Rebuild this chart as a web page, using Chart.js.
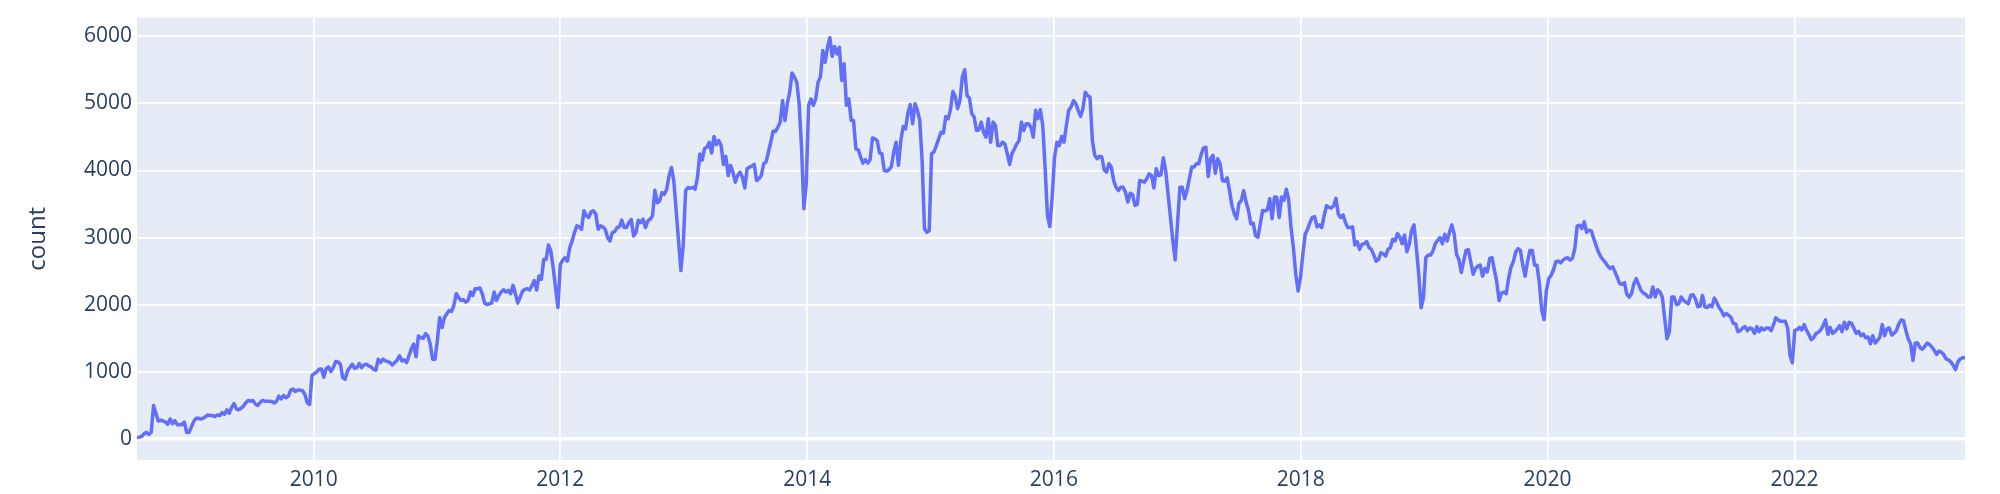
<!DOCTYPE html>
<html><head><meta charset="utf-8">
<script src="https://cdn.jsdelivr.net/npm/chart.js@4.4.0/dist/chart.umd.min.js"></script>
<style>html,body{margin:0;padding:0;background:#fff;overflow:hidden}#wrap{width:2000px;height:494px}</style>
</head><body>
<div id="wrap"><canvas id="c" width="2000" height="494"></canvas></div>
<script>
// weekly series, first week starting on this date
const startDate = '2008-07-27';

const counts2008_2010 = [20, 30, 40, 80, 100, 70, 100, 500, 385, 270, 280,
270, 255, 220, 300, 230, 275, 215, 215, 215, 255,
100, 100, 180, 265, 310, 310, 300, 310, 335, 360,
350, 350, 335, 360, 350, 395, 370, 435, 385, 470,
530, 450, 435, 460, 490, 540, 575, 565, 575, 525,
500, 540, 575, 565, 565, 565, 560, 535, 565, 640,
600, 650, 615, 640, 730, 745, 710, 730, 730, 720,
665, 540, 515, 950, 975, 1000, 1040, 1045, 920, 1050,
1075];

const counts2010_2011 = [1005, 1065, 1155, 1150, 1115, 915, 890, 1015, 1065, 1115,
1055, 1065, 1125, 1065, 1105, 1115, 1090, 1075, 1040, 1025,
1190, 1140, 1190, 1165, 1155, 1140, 1105, 1140, 1175, 1240,
1165, 1180, 1140, 1240, 1340, 1415, 1225, 1535, 1510, 1500,
1570, 1535, 1415, 1190, 1190, 1465, 1810, 1660, 1810, 1865,
1915, 1900, 1990, 2165, 2105, 2065, 2075, 2040, 2065, 2190,
2140, 2240, 2240, 2250, 2165, 2025, 2005, 2015, 2025, 2190,
2065, 2140, 2190, 2225, 2190, 2215, 2165, 2290, 2165, 2025];

const counts2011_2013 = [2110, 2200, 2230, 2240, 2220, 2285, 2360, 2220, 2430, 2380,
2675, 2675, 2890, 2800, 2550, 2250, 1960, 2600, 2660, 2700,
2650, 2850, 2950, 3075, 3175, 3160, 3125, 3400, 3325, 3300,
3385, 3400, 3350, 3125, 3175, 3160, 3125, 3000, 2950, 3075,
3090, 3150, 3160, 3260, 3150, 3150, 3225, 3270, 3025, 3075,
3260, 3225, 3275, 3150, 3250, 3275, 3325, 3705, 3520, 3545,
3670, 3645, 3720, 3920, 4045, 3845, 3400, 2950, 2510, 2900,
3700, 3745, 3735, 3750, 3720, 3895, 4245, 4155, 4325, 4345];

const counts2013_2014 = [4420, 4260, 4505, 4385, 4445, 4370, 4090, 4210, 3925, 4075,
3975, 3825, 3925, 3975, 3900, 3740, 4025, 4050, 4065, 4090,
3850, 3875, 3925, 4100, 4125, 4275, 4420, 4585, 4580, 4645,
4720, 5040, 4745, 4995, 5165, 5450, 5390, 5315, 4995, 4345,
3430, 3800, 4970, 5065, 4970, 5065, 5315, 5390, 5785, 5610,
5835, 5975, 5700, 5845, 5735, 5835, 5340, 5590, 4970, 5065,
4745, 4745, 4320, 4310, 4200, 4110, 4160, 4110, 4160, 4485,
4470, 4445, 4260, 4250, 4000, 3990, 4010, 4060, 4275, 4420];

const counts2014_2016 = [4075, 4445, 4655, 4620, 4855, 4980, 4695, 4995, 4895, 4745,
4150, 3130, 3080, 3105, 4250, 4275, 4370, 4470, 4570, 4555,
4805, 4770, 4905, 5175, 5100, 4920, 5040, 5390, 5500, 5115,
5080, 4845, 4795, 4595, 4605, 4720, 4570, 4495, 4770, 4420,
4720, 4670, 4370, 4370, 4420, 4395, 4250, 4090, 4250, 4320,
4395, 4445, 4720, 4595, 4695, 4695, 4645, 4495, 4895, 4770,
4905, 4670, 4050, 3330, 3165, 3605, 4200, 4420, 4370, 4505,
4420, 4670, 4895, 4945, 5040, 4995, 4895, 4805, 4920, 5165];

const counts2016_2017 = [5115, 5090, 4445, 4225, 4175, 4210, 4200, 4010, 3975, 4100,
4050, 3850, 3750, 3700, 3750, 3750, 3675, 3530, 3660, 3640,
3480, 3495, 3850, 3840, 3825, 3875, 3950, 3925, 3740, 4025,
3925, 3935, 4190, 4000, 3650, 3305, 2960, 2670, 3205, 3750,
3750, 3580, 3700, 3875, 4050, 4050, 4100, 4100, 4240, 4335,
4345, 3910, 4175, 4225, 3960, 4175, 4100, 3850, 3840, 3890,
3700, 3480, 3355, 3280, 3515, 3555, 3700, 3530, 3405, 3205,
3215, 3030, 3005, 3205, 3405, 3395, 3415, 3580, 3280, 3605];

const counts2017_2019 = [3600, 3300, 3605, 3555, 3720, 3570, 3150, 2850, 2455, 2205,
2405, 2750, 3050, 3125, 3225, 3300, 3310, 3160, 3190, 3150,
3325, 3475, 3450, 3440, 3475, 3585, 3350, 3300, 3340, 3225,
3150, 3150, 3160, 2890, 2940, 2825, 2900, 2910, 2940, 2850,
2825, 2740, 2650, 2675, 2775, 2760, 2725, 2825, 2850, 2975,
2950, 3060, 3010, 2910, 3040, 2790, 2900, 3110, 3190, 2850,
2455, 1955, 2105, 2700, 2740, 2740, 2800, 2910, 2960, 3000,
2910, 3050, 2950, 3075, 3190, 3050, 2750, 2675, 2480, 2650];

const counts2019_2021 = [2810, 2820, 2640, 2455, 2540, 2575, 2590, 2425, 2540, 2490,
2690, 2700, 2515, 2340, 2065, 2175, 2190, 2165, 2390, 2560,
2640, 2785, 2835, 2810, 2590, 2425, 2640, 2810, 2810, 2590,
2590, 2325, 1920, 1780, 2215, 2390, 2440, 2525, 2640, 2650,
2625, 2665, 2690, 2700, 2665, 2690, 2835, 3170, 3185, 3135,
3235, 3080, 3110, 3100, 2985, 2885, 2785, 2715, 2670, 2625,
2575, 2540, 2565, 2490, 2405, 2315, 2305, 2330, 2155, 2115,
2165, 2315, 2390, 2300, 2215, 2175, 2155, 2115, 2115, 2265,
2115, 2225, 2190, 2115, 1800, 1495, 1600, 2115, 2115, 2005,
2015, 2115, 2065, 2040, 2015, 2140, 2150, 2085, 1970, 1980,
2140, 1970, 1960, 1995];

const counts2021_2023 = [1970, 2100, 2035, 1960, 1910, 1835, 1870, 1845, 1815, 1725,
1715, 1600, 1615, 1655, 1675, 1615, 1655, 1640, 1575, 1675,
1600, 1655, 1625, 1655, 1655, 1615, 1700, 1805, 1775, 1755,
1755, 1755, 1655, 1250, 1135, 1620, 1630, 1665, 1625, 1705,
1620, 1555, 1480, 1510, 1575, 1590, 1625, 1690, 1775, 1560,
1665, 1575, 1600, 1640, 1690, 1600, 1740, 1640, 1740, 1725,
1650, 1575, 1605, 1540, 1565, 1510, 1520, 1420, 1540, 1430,
1470, 1520, 1705, 1540, 1640, 1655, 1550, 1575, 1615, 1715,
1775, 1765, 1615, 1490, 1420, 1170, 1430, 1430, 1360, 1340,
1380, 1430, 1410, 1370, 1320, 1260, 1310, 1295, 1260, 1195,
1180, 1150, 1100, 1035, 1150, 1195, 1210, 1210];

const yearTicks = [2010, 2012, 2014, 2016, 2018, 2020, 2022];
const countTicks = [0, 1000, 2000, 3000, 4000, 5000, 6000];
const countRange = [-311, 6276];
const axisTitle = 'count';

const weeklyCounts = [].concat(counts2008_2010, counts2010_2011, counts2011_2013,
  counts2013_2014, counts2014_2016, counts2016_2017, counts2017_2019,
  counts2019_2021, counts2021_2023);

const t0 = Date.parse(startDate + 'T00:00:00Z');
const WEEK = 7 * 86400000;
const points = weeklyCounts.map((v, i) => ({x: t0 + i * WEEK, y: v}));

const FONT = '"Open Sans", verdana, arial, sans-serif';
const INK = '#2a3f5f';

const plotBg = {
  id: 'plotBg',
  beforeDraw(chart) {
    const {ctx, chartArea: a} = chart;
    ctx.save();
    ctx.fillStyle = '#E5ECF6';
    ctx.fillRect(a.left, a.top, a.right - a.left, a.bottom - a.top);
    ctx.restore();
  }
};

new Chart(document.getElementById('c'), {
  type: 'line',
  data: {datasets: [{
    data: points,
    borderColor: '#636efa',
    borderWidth: 3.5,
    pointRadius: 0,
    tension: 0,
    fill: false,
    borderJoinStyle: 'round'
  }]},
  options: {
    responsive: false,
    animation: false,
    layout: {padding: {left: 0, right: 35, top: 16, bottom: 0}},
    plugins: {legend: {display: false}, tooltip: {enabled: false}},
    scales: {
      x: {
        type: 'linear',
        min: points[0].x,
        max: points[points.length - 1].x,
        afterBuildTicks: s => { s.ticks = yearTicks.map(y => ({value: Date.UTC(y, 0, 1)})); },
        afterFit: s => { s.height = 34; },
        grid: {color: '#ffffff', lineWidth: 1.75, drawTicks: false},
        border: {display: false},
        ticks: {
          padding: 7, color: INK, autoSkip: false, maxRotation: 0,
          font: {family: FONT, size: 21},
          callback: v => String(new Date(v).getUTCFullYear())
        }
      },
      y: {
        min: countRange[0],
        max: countRange[1],
        afterBuildTicks: s => { s.ticks = countTicks.map(v => ({value: v})); },
        afterFit: s => { s.width = 137; },
        grid: {color: '#ffffff', lineWidth: c => (c.tick && c.tick.value === 0) ? 3.5 : 1.75, drawTicks: false},
        border: {display: false},
        ticks: {padding: 5, color: INK, font: {family: FONT, size: 21}, callback: v => String(v)},
        title: {display: true, text: axisTitle, color: INK, font: {family: FONT, size: 24}, padding: {top: 24, bottom: 0}}
      }
    }
  },
  plugins: [plotBg]
});
</script>
</body></html>
